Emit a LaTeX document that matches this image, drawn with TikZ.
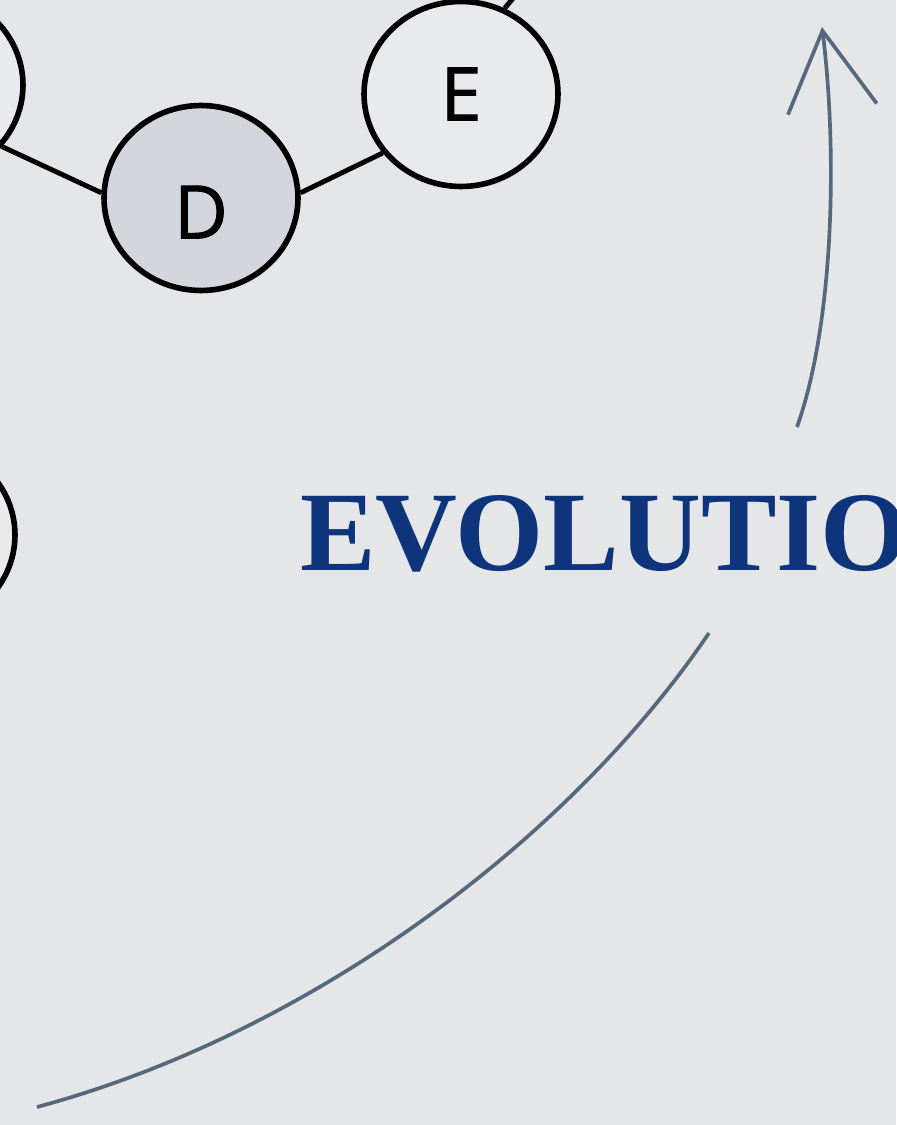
\documentclass[tikz,border=0pt]{standalone}
\usepackage{fontspec}
\setmainfont{Liberation Serif}
\newfontfamily\letrasfont[FakeBold=1.2]{Open Sans}
\usetikzlibrary{arrows.meta,shapes.geometric}
\definecolor{fondo}{HTML}{E5E6E8}
\definecolor{relleno}{HTML}{D3D6DC}
\definecolor{rellenoclaro}{HTML}{E9EAED}
\definecolor{flecha}{HTML}{56697C}
\definecolor{azul}{HTML}{0E357C}

\begin{document}
\begin{tikzpicture}[x=0.02cm,y=-0.02cm,
  nodo/.style={draw=black,line width=3.2pt,ellipse,minimum width=3.88cm,
    minimum height=3.7cm,inner sep=0pt,font=\letrasfont\fontsize{42}{42}\selectfont},
  arista/.style={line width=2.8pt,black},
  curva/.style={line width=2.1pt,flecha}]
  % fondo y marco
  \fill[fondo] (0,0) rectangle (896,1125);
  \useasboundingbox (0,0) rectangle (896,1125);
  \clip (0,0) rectangle (896,1125);

  % vertices del grafo
  \node[nodo,fill=rellenoclaro] (C) at (-74,85) {};
  \node[nodo,fill=relleno,text height=1.62cm] (D) at (201,198) {D};
  \node[nodo,fill=rellenoclaro] (E) at (461,94) {E};
  \node[nodo,fill=rellenoclaro] (B) at (-82,535) {};
  \coordinate (Esal) at (545,-40);

  % aristas
  \draw[arista] (C.-39) -- (D.177);
  \draw[arista] (D.3) -- (E.217);
  \draw[arista] (E.63) -- (Esal);

  % titulo
  \node[anchor=base west,inner sep=0pt,text=azul,
    font=\fontsize{64.5}{64.5}\selectfont\bfseries] (evol) at (300,570) {EVOLUTION};

  % flecha hacia arriba
  \coordinate (arrIni) at (797,427);
  \coordinate (arrFin) at (822,27);
  \draw[curva,-{Straight Barb[length=1.58cm,width=1.79cm]}] (arrIni)
    .. controls (835,320) and (837,146) .. (arrFin);

  % curva inferior
  \coordinate (curIni) at (709,633);
  \coordinate (curFin) at (37,1107);
  \draw[curva] (curIni) .. controls (569,840) and (309,1034) .. (curFin);
\end{tikzpicture}
\end{document}
